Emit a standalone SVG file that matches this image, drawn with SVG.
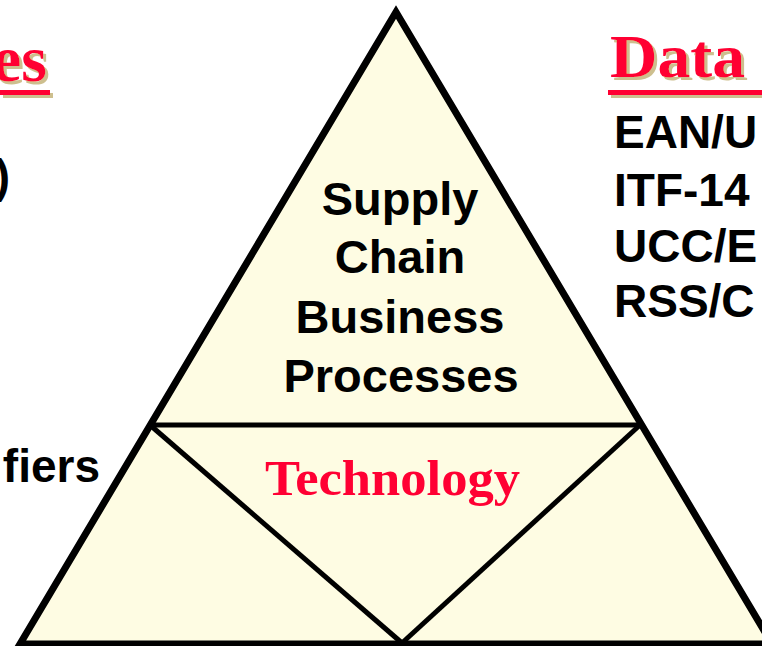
<svg xmlns="http://www.w3.org/2000/svg" width="762" height="646" viewBox="0 0 762 646">
<defs>
<filter id="tanShadow" x="-10%" y="-10%" width="130%" height="130%">
<feFlood flood-color="#CDBF8E" result="c"/>
<feComposite in="c" in2="SourceAlpha" operator="in" result="s"/>
<feOffset in="s" dx="3" dy="3" result="o"/>
<feMerge><feMergeNode in="o"/><feMergeNode in="SourceGraphic"/></feMerge>
</filter>
</defs>
<style>
.title{font-family:"Liberation Serif","Times New Roman",serif;font-weight:bold;fill:#FF0033}
.body{font-family:"Liberation Sans",Arial,sans-serif;font-weight:bold;font-size:46px;fill:#000}
.big{font-size:47px}
.edge{stroke:#000;stroke-width:5;fill:none}
</style>
<rect width="762" height="646" fill="#FFFFFF"/>
<g id="pyramid">
<polygon points="396,12 20,644 772,644" fill="#FEFCE3" stroke="#000" stroke-width="7" stroke-linejoin="miter"/>
</g>
<g id="connectors">
<line class="edge" x1="148" y1="425" x2="642" y2="425"/>
<line class="edge" x1="150" y1="425" x2="402" y2="643"/>
<line class="edge" x1="640" y1="425" x2="402" y2="643"/>
</g>
<g id="left-title" filter="url(#tanShadow)">
<text class="title" x="47" y="81" font-size="66" text-anchor="end">es</text>
<rect x="0" y="90" width="50" height="5" fill="#FF0033"/>
</g>
<g id="left-texts">
<text class="body" x="10" y="192" text-anchor="end">)</text>
<text class="body" x="100" y="482" text-anchor="end">fiers</text>
</g>
<g id="right-title" filter="url(#tanShadow)">
<text class="title" x="610" y="77" font-size="62" textLength="135" lengthAdjust="spacingAndGlyphs">Data</text>
<rect x="608" y="90" width="154" height="5" fill="#FF0033"/>
</g>
<g id="right-texts">
<text class="body" x="614" y="148">EAN/U</text>
<text class="body" x="614" y="206">ITF-14</text>
<text class="body" x="614" y="262">UCC/E</text>
<text class="body" x="614" y="317">RSS/C</text>
</g>
<g id="top-section">
<text class="body big" x="400" y="215" text-anchor="middle">Supply</text>
<text class="body big" x="400" y="273" text-anchor="middle">Chain</text>
<text class="body big" x="400" y="333" text-anchor="middle">Business</text>
<text class="body big" x="401" y="392" text-anchor="middle">Processes</text>
</g>
<g id="middle-section">
<text class="title" x="265" y="495" font-size="51" textLength="255" lengthAdjust="spacingAndGlyphs">Technology</text>
</g>
</svg>
